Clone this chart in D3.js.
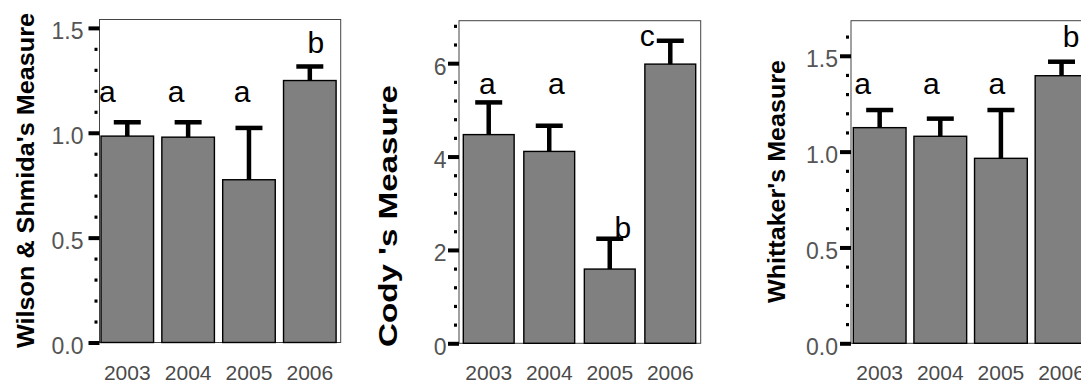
<!DOCTYPE html>
<html>
<head>
<meta charset="utf-8">
<script src="https://cdn.jsdelivr.net/npm/d3@7"></script>
<style>
  html, body { margin: 0; padding: 0; background: #fff; }
  svg { display: block; }
  text { font-family: "Liberation Sans", Arial, Helvetica, sans-serif; }
</style>
</head>
<body>
<svg id="chart" width="1081" height="383"></svg>
<script>
// Diversity measures by year: means, upper error (SE) and group letters
const years = ["2003", "2004", "2005", "2006"];

const wilsonMean = [0.984, 0.979, 0.776, 1.249];
const wilsonErr = [0.066, 0.071, 0.247, 0.067];
const wilsonLetters = ["a", "a", "a", "b"];
const wilsonLetterAt = [1.146, 1.146, 1.146, 1.378];
const wilsonTicks = [0, 0.5, 1.0, 1.5];

const codyMean = [4.47, 4.11, 1.59, 5.98];
const codyErr = [0.69, 0.55, 0.65, 0.50];
const codyLetters = ["a", "a", "b", "c"];
const codyLetterAt = [5.34, 5.34, 2.26, 6.36];
const codyTicks = [0, 2, 4, 6];

const whittakerMean = [1.125, 1.080, 0.965, 1.396];
const whittakerErr = [0.092, 0.092, 0.252, 0.073];
const whittakerLetters = ["a", "a", "a", "b"];
const whittakerLetterAt = [1.30, 1.30, 1.30, 1.547];
const whittakerTicks = [0, 0.5, 1.0, 1.5];

// Panel layout (pixels) and axis settings
const panels = [
  {
    title: "Wilson & Shmida's Measure",
    mean: wilsonMean, err: wilsonErr, letters: wilsonLetters, letterAt: wilsonLetterAt,
    ticks: wilsonTicks, fmt: d3.format(".1f"), yMax: 1.54, minorStep: 0.1,
    x0: 99.5, x1: 340.7, top: 19.5, bottom: 342.5,
    inL: 1.5, inR: 4.6, padInner: 0.136, tickPad: 5,
    letterDx: [-20, -12, -7, 6],
    titleX: 33.5, titleY: 180.5, titleLen: 335, titleSize: 24
  },
  {
    title: "Cody 's Measure",
    mean: codyMean, err: codyErr, letters: codyLetters, letterAt: codyLetterAt,
    ticks: codyTicks, fmt: d3.format("d"), yMax: 6.91, minorStep: 0.4,
    x0: 459, x1: 700.7, top: 20.7, bottom: 343.3,
    inL: 4.3, inR: 5, padInner: 0.16, tickPad: 1.5,
    letterDx: [-1.5, 7, 13, -23],
    titleX: 397, titleY: 216, titleLen: 262, titleSize: 25
  },
  {
    title: "Whittaker's Measure",
    mean: whittakerMean, err: whittakerErr, letters: whittakerLetters, letterAt: whittakerLetterAt,
    ticks: whittakerTicks, fmt: d3.format(".1f"), yMax: 1.683, minorStep: 0.1,
    x0: 851, x1: 1092.5, top: 20.7, bottom: 343.3,
    inL: 2.3, inR: 4.6, padInner: 0.13, tickPad: 2,
    letterDx: [-17, -9, -4, 9.5],
    titleX: 785, titleY: 181.5, titleLen: 243, titleSize: 24
  }
];

const svg = d3.select("#chart");

panels.forEach(p => {
  const g = svg.append("g");

  const x = d3.scaleBand()
    .domain(years)
    .range([p.x0 + p.inL, p.x1 - p.inR])
    .paddingInner(p.padInner)
    .paddingOuter(0);

  const y = d3.scaleLinear()
    .domain([0, p.yMax])
    .range([p.bottom, p.top]);

  // plot frame
  g.append("rect")
    .attr("x", p.x0).attr("y", p.top)
    .attr("width", p.x1 - p.x0).attr("height", p.bottom - p.top)
    .attr("fill", "none").attr("stroke", "#444").attr("stroke-width", 1);

  // bars
  g.selectAll("rect.bar")
    .data(years)
    .join("rect")
    .attr("class", "bar")
    .attr("x", d => x(d))
    .attr("width", x.bandwidth())
    .attr("y", (d, i) => y(p.mean[i]))
    .attr("height", (d, i) => y(0) - y(p.mean[i]))
    .attr("fill", "#808080")
    .attr("stroke", "#000")
    .attr("stroke-width", 1.4);

  // upper error bars
  const eb = g.selectAll("g.err")
    .data(years)
    .join("g")
    .attr("class", "err")
    .attr("stroke", "#000")
    .attr("stroke-width", 4.5);
  eb.append("line")
    .attr("x1", d => x(d) + x.bandwidth() / 2)
    .attr("x2", d => x(d) + x.bandwidth() / 2)
    .attr("y1", (d, i) => y(p.mean[i]))
    .attr("y2", (d, i) => y(p.mean[i] + p.err[i]));
  eb.append("line")
    .attr("x1", d => x(d) + x.bandwidth() / 2 - 13.5)
    .attr("x2", d => x(d) + x.bandwidth() / 2 + 13.5)
    .attr("y1", (d, i) => y(p.mean[i] + p.err[i]))
    .attr("y2", (d, i) => y(p.mean[i] + p.err[i]));

  // significance letters
  g.selectAll("text.letter")
    .data(years)
    .join("text")
    .attr("class", "letter")
    .attr("x", (d, i) => x(d) + x.bandwidth() / 2 + p.letterDx[i])
    .attr("y", (d, i) => y(p.letterAt[i]))
    .attr("text-anchor", "middle")
    .attr("font-size", 30)
    .attr("fill", "#000")
    .text((d, i) => p.letters[i]);

  // minor y ticks
  const minorVals = d3.range(0, p.yMax + 1e-9, p.minorStep)
    .filter(v => !p.ticks.some(t => Math.abs(t - v) < 1e-6));
  const minorAxis = d3.axisLeft(y).tickValues(minorVals).tickSize(3).tickFormat("");
  const gMinor = g.append("g")
    .attr("transform", `translate(${p.x0 - 2},0)`)
    .call(minorAxis);
  gMinor.select(".domain").remove();
  gMinor.selectAll(".tick line").attr("stroke", "#000").attr("stroke-width", 3.2);

  // major y ticks
  const majorAxis = d3.axisLeft(y).tickValues(p.ticks).tickSize(11)
    .tickPadding(p.tickPad).tickFormat(p.fmt);
  const gMajor = g.append("g")
    .attr("transform", `translate(${p.x0},0)`)
    .call(majorAxis);
  gMajor.select(".domain").remove();
  gMajor.selectAll(".tick line").attr("stroke", "#000").attr("stroke-width", 4);
  gMajor.selectAll(".tick text")
    .attr("font-family", "Liberation Sans, Arial, sans-serif")
    .attr("font-size", 23)
    .attr("fill", "#555")
    .attr("dy", "0.48em");

  // year labels
  const xAxis = d3.axisBottom(x).tickSize(0).tickPadding(0);
  const gx = g.append("g")
    .attr("transform", `translate(0,${p.bottom})`)
    .call(xAxis);
  gx.select(".domain").remove();
  gx.selectAll(".tick text")
    .attr("font-family", "Liberation Sans, Arial, sans-serif")
    .attr("font-size", 21)
    .attr("fill", "#4a4a4a")
    .attr("y", 380 - p.bottom)
    .attr("dy", 0);

  // y-axis title
  g.append("text")
    .attr("transform", `translate(${p.titleX},${p.titleY}) rotate(-90)`)
    .attr("text-anchor", "middle")
    .attr("font-size", p.titleSize)
    .attr("font-weight", "bold")
    .attr("fill", "#000")
    .attr("textLength", p.titleLen)
    .attr("lengthAdjust", "spacingAndGlyphs")
    .text(p.title);
});
</script>
</body>
</html>
